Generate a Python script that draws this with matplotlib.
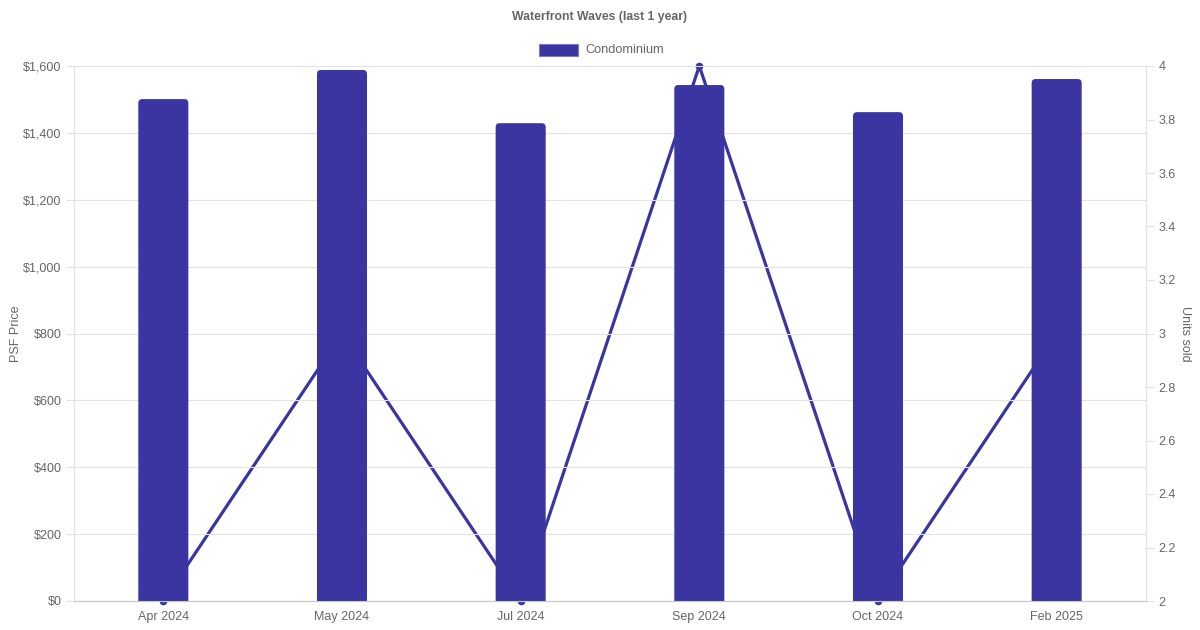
import numpy as np
import matplotlib.pyplot as plt
from matplotlib.patches import FancyBboxPatch, Rectangle
from matplotlib.ticker import FuncFormatter, MultipleLocator

plt.rcParams['font.family'] = ['Liberation Sans', 'DejaVu Sans']

months = ["Apr 2024", "May 2024", "Jul 2024", "Sep 2024", "Oct 2024", "Feb 2025"]
psf_price = [1501, 1588, 1429, 1543, 1462, 1561]
units_sold = [2, 3, 2, 4, 2, 3]

bar_color = '#3a35a0'
text_color = '#666666'
grid_color = '#e3e3e3'

fig = plt.figure(figsize=(12, 6.3), dpi=100)
ax = fig.add_axes([74 / 1200, 29 / 630, 1072 / 1200, 535 / 630])
ax2 = ax.twinx()

# bars drawn above the line, so the bar axes goes on top
ax.set_zorder(ax2.get_zorder() + 1)
ax.patch.set_visible(False)

x = np.arange(len(months))
ax.set_xlim(-0.5, len(months) - 0.5)
ax.set_ylim(0, 1600)
ax2.set_ylim(2, 4)

bar_w = 0.28
for xi, v in zip(x, psf_price):
    p = FancyBboxPatch((xi - bar_w / 2, -30), bar_w, v + 30,
                       boxstyle="round,pad=0,rounding_size=0.022",
                       mutation_aspect=540, fc=bar_color, ec='none', zorder=2)
    ax.add_patch(p)

ax2.plot(x, units_sold, color=bar_color, lw=2.3, marker='o', markersize=4.5,
         clip_on=False, zorder=1)

ax.yaxis.set_major_locator(MultipleLocator(200))
ax.yaxis.set_major_formatter(FuncFormatter(lambda v, p: f"${v:,.0f}"))
ax2.yaxis.set_major_locator(MultipleLocator(0.2))
ax2.yaxis.set_major_formatter(FuncFormatter(lambda v, p: f"{v:g}"))
ax.grid(axis='y', color=grid_color, lw=0.8)
ax.set_axisbelow(True)

ax.set_xticks(x)
ax.set_xticklabels(months)
for a in (ax, ax2):
    for s in a.spines.values():
        s.set_color(grid_color)
        s.set_linewidth(0.8)
    a.spines['top'].set_visible(False)
    a.spines['bottom'].set_color('#c8c8c8')
    a.tick_params(colors=text_color, labelsize=9, length=6, width=0.8)
    a.tick_params(axis='y', color=grid_color, pad=3)
ax.tick_params(axis='x', length=0, pad=7)

ax.set_ylabel("PSF Price", color=text_color, fontsize=9, labelpad=1)
ax2.set_ylabel("Units sold", color=text_color, fontsize=9, rotation=270, labelpad=11)

fig.text(0.5, 1 - 17 / 630, "Waterfront Waves (last 1 year)", ha='center', va='center',
         color=text_color, fontsize=8.8, fontweight='bold')
fig.patches.append(Rectangle((539 / 1200, 1 - 56 / 630), 39 / 1200, 12 / 630,
                             transform=fig.transFigure, fc=bar_color,
                             ec='#7d7ac4', lw=0.8))
fig.text(585 / 1200, 1 - 50 / 630, "Condominium", ha='left', va='center',
         color=text_color, fontsize=9.2)

fig.savefig("out.png", dpi=100, facecolor='white')
